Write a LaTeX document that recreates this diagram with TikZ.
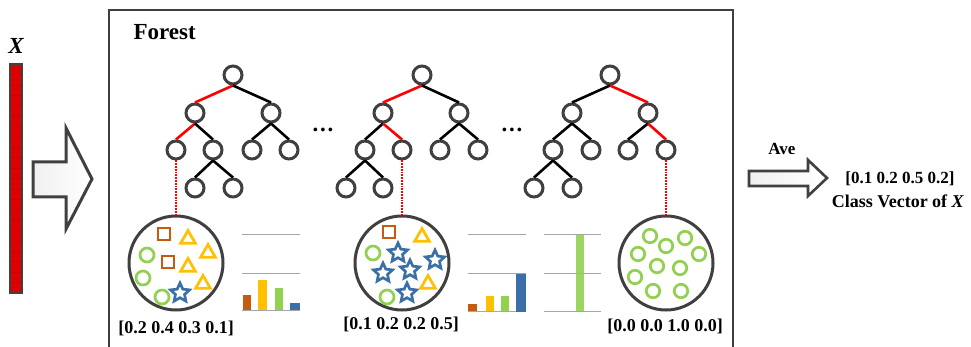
\documentclass[tikz,border=0pt]{standalone}
\usepackage{fontspec}
\setmainfont{Liberation Serif}
\usetikzlibrary{shapes.geometric,positioning}
\definecolor{frame}{HTML}{404040}
\definecolor{hitred}{HTML}{FF0000}
\definecolor{barred}{HTML}{E00000}
\definecolor{clsorange}{HTML}{C55A11}
\definecolor{clsyellow}{HTML}{FFC000}
\definecolor{clsgreen}{HTML}{92D050}
\definecolor{clsblue}{HTML}{3B6FA8}
\definecolor{rulegray}{HTML}{A6A6A6}
\newcommand{\vecfont}{\fontsize{18}{20}\selectfont\bfseries}
\newcommand{\headfont}{\fontsize{23}{25}\selectfont\bfseries}

\tikzset{
  tnode/.style={circle,draw=frame,line width=3pt,fill=white,minimum size=18pt,inner sep=0pt},
  tedge/.style={line width=2.6pt,draw=black},
  redge/.style={line width=2.6pt,draw=hitred},
  drop/.style={densely dotted,line width=1.8pt,draw=hitred},
  bag/.style={circle,draw=frame,line width=3pt,minimum size=94pt,inner sep=0pt},
  sqr/.style={rectangle,draw=clsorange,line width=2.7pt,minimum size=12pt,inner sep=0pt},
  tri/.style={regular polygon,regular polygon sides=3,draw=clsyellow,line width=2.7pt,minimum size=17pt,inner sep=0pt},
  ring/.style={circle,draw=clsgreen,line width=2.7pt,minimum size=14pt,inner sep=0pt},
  stmark/.style={star,star points=5,star point ratio=2.1,draw=clsblue,line width=2.7pt,minimum size=20pt,inner sep=0pt},
  gline/.style={draw=rulegray,line width=1pt},
  fatarrow/.style={draw=frame,line width=3pt,left color=gray!12,right color=white,line join=miter},
  vec/.style={font=\vecfont,inner sep=1pt}
}

\begin{document}
\begin{tikzpicture}[x=1pt,y=-1pt]
  \useasboundingbox (0,0) rectangle (971,347);

  \node[font=\headfont\itshape] (xin) at (16,46) {X};
  \fill[barred,draw=frame,line width=2.6pt] (10,64) rectangle (22,293);
  \foreach \i in {1,...,21}
    \draw[red!70!black,line width=0.3pt,opacity=0.5] (11.5,64+10.4*\i) -- (20.5,64+10.4*\i);

  \draw[fatarrow] (33,162) -- (66,162) -- (66,128) -- (92,179) -- (66,229) -- (66,197) -- (33,197) -- cycle;

  \draw[frame,line width=2.8pt] (109,347) |- (733,10) -- (733,347);
  \node[font=\headfont,anchor=west] (forest) at (130,32) {Forest};

  \begin{scope}[shift={(233,75)}]
    \node[tnode] (t1) at (0,0) {};
    \node[tnode] (t1l) at (-38,38) {};
    \node[tnode] (t1r) at (38,38) {};
    \node[tnode] (t1ll) at (-57,75) {};
    \node[tnode] (t1lr) at (-20,75) {};
    \node[tnode] (t1rl) at (19,75) {};
    \node[tnode] (t1rr) at (56,75) {};
    \node[tnode] (t1lrl) at (-38,113) {};
    \node[tnode] (t1lrr) at (0,113) {};
  \end{scope}
  \draw[redge] (t1.south) -- (t1l.north);
  \draw[tedge] (t1.south) -- (t1r.north);
  \draw[redge] (t1l.south) -- (t1ll.north);
  \draw[tedge] (t1l.south) -- (t1lr.north);
  \draw[tedge] (t1r.south) -- (t1rl.north);
  \draw[tedge] (t1r.south) -- (t1rr.north);
  \draw[tedge] (t1lr.south) -- (t1lrl.north);
  \draw[tedge] (t1lr.south) -- (t1lrr.north);

  \begin{scope}[shift={(422,75)}]
    \node[tnode] (t2) at (0,0) {};
    \node[tnode] (t2l) at (-39,38) {};
    \node[tnode] (t2r) at (37,38) {};
    \node[tnode] (t2ll) at (-57,75) {};
    \node[tnode] (t2lr) at (-20,75) {};
    \node[tnode] (t2rl) at (18,75) {};
    \node[tnode] (t2rr) at (56,75) {};
    \node[tnode] (t2lll) at (-76,113) {};
    \node[tnode] (t2llr) at (-39,113) {};
  \end{scope}
  \draw[redge] (t2.south) -- (t2l.north);
  \draw[tedge] (t2.south) -- (t2r.north);
  \draw[tedge] (t2l.south) -- (t2ll.north);
  \draw[redge] (t2l.south) -- (t2lr.north);
  \draw[tedge] (t2r.south) -- (t2rl.north);
  \draw[tedge] (t2r.south) -- (t2rr.north);
  \draw[tedge] (t2ll.south) -- (t2lll.north);
  \draw[tedge] (t2ll.south) -- (t2llr.north);

  \begin{scope}[shift={(610,75)}]
    \node[tnode] (t3) at (0,0) {};
    \node[tnode] (t3l) at (-38,38) {};
    \node[tnode] (t3r) at (38,38) {};
    \node[tnode] (t3ll) at (-57,75) {};
    \node[tnode] (t3lr) at (-19,75) {};
    \node[tnode] (t3rl) at (18,75) {};
    \node[tnode] (t3rr) at (56,75) {};
    \node[tnode] (t3lll) at (-76,113) {};
    \node[tnode] (t3llr) at (-38,113) {};
  \end{scope}
  \draw[tedge] (t3.south) -- (t3l.north);
  \draw[redge] (t3.south) -- (t3r.north);
  \draw[tedge] (t3l.south) -- (t3ll.north);
  \draw[tedge] (t3l.south) -- (t3lr.north);
  \draw[tedge] (t3r.south) -- (t3rl.north);
  \draw[redge] (t3r.south) -- (t3rr.north);
  \draw[tedge] (t3ll.south) -- (t3lll.north);
  \draw[tedge] (t3ll.south) -- (t3llr.north);

  \node[font=\headfont,anchor=base] (gap1) at (323,132) {.\kern1.8pt.\kern1.8pt.};
  \node[font=\headfont,anchor=base] (gap2) at (512,132) {.\kern1.8pt.\kern1.8pt.};

  \node[bag] (leafa) at (176,263) {};
  \node[bag] (leafb) at (402,263) {};
  \node[bag] (leafc) at (666,263) {};
  \draw[drop] (t1ll.south) -- (leafa.north);
  \draw[drop] (t2lr.south) -- (leafb.north);
  \draw[drop] (t3rr.south) -- (leafc.north);

  \node[sqr] at (164,234) {};
  \node[sqr] at (168,262) {};
  \node[tri] at (188,239) {};
  \node[tri] at (208,253) {};
  \node[tri] at (188,267) {};
  \node[tri] at (203,284) {};
  \node[ring] at (147,255) {};
  \node[ring] at (143,278) {};
  \node[ring] at (162,297) {};
  \node[stmark] at (180,293) {};

  \node[sqr] at (389,232) {};
  \node[tri] at (422,237) {};
  \node[tri] at (428,284) {};
  \node[ring] at (373,253) {};
  \node[ring] at (387,297) {};
  \node[stmark] at (398,253) {};
  \node[stmark] at (435,260) {};
  \node[stmark] at (383,273) {};
  \node[stmark] at (410,270) {};
  \node[stmark] at (407,293) {};

  \foreach \p in {(650,236),(666,246),(685,238),(638,254),(699,254),
                  (657,266),(680,268),(635,277),(653,291),(681,291)}
    \node[ring,minimum size=13.5pt] at \p {};

  \foreach \y in {235,273,310}
    \draw[gline] (242,\y) -- (300,\y);
  \fill[clsorange] (243,310) rectangle (251,295);
  \fill[clsyellow] (258,310) rectangle (267,280);
  \fill[clsgreen] (275,310) rectangle (283,287.5);
  \fill[clsblue] (290,310) rectangle (300,302.5);

  \foreach \y in {235,273,311}
    \draw[gline] (468,\y) -- (526,\y);
  \fill[clsorange] (468,311) rectangle (477,303.5);
  \fill[clsyellow] (486,311) rectangle (494,296);
  \fill[clsgreen] (501,311) rectangle (509,296);
  \fill[clsblue] (516,312) rectangle (526,273.5);

  \foreach \y in {235,273,311}
    \draw[gline] (544,\y) -- (601,\y);
  \fill[clsgreen,opacity=0.9] (576,311) rectangle (584,235);

  \node[vec] (pa) at (176,328) {[0.2 0.4 0.3 0.1]};
  \node[vec] (pb) at (401,324) {[0.1 0.2 0.2 0.5]};
  \node[vec] (pc) at (665,326) {[0.0 0.0 1.0 0.0]};

  \draw[fatarrow,line width=2.6pt] (749,171) -- (808,171) -- (808,160) -- (827,178) -- (808,196) -- (808,186) -- (749,186) -- cycle;
  \node[vec,font=\fontsize{17}{19}\selectfont\bfseries] (ave) at (782,149) {Ave};
  \node[vec,font=\fontsize{17}{19}\selectfont\bfseries] (avg) at (900,179) {[0.1 0.2 0.5 0.2]};
  \node[vec] (cls) at (898,201) {Class Vector of \textit{X}};
\end{tikzpicture}
\end{document}
